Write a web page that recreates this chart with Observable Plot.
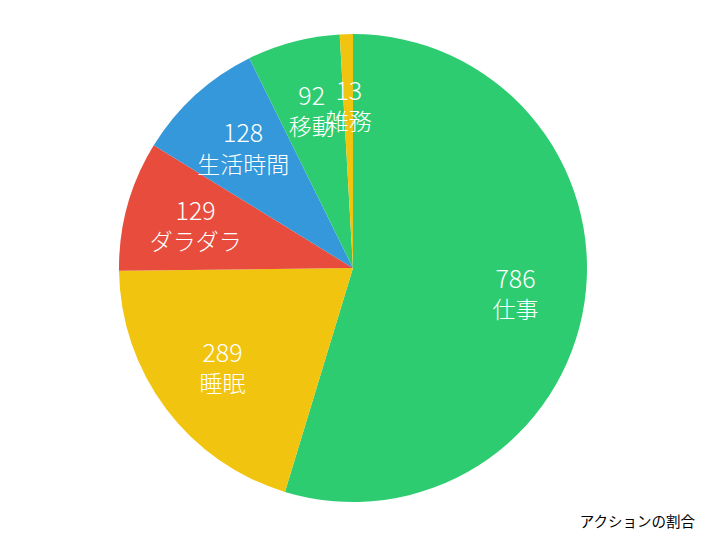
<!DOCTYPE html>
<html>
<head>
<meta charset="utf-8">
<script src="https://cdn.jsdelivr.net/npm/d3@7"></script>
<script src="https://cdn.jsdelivr.net/npm/@observablehq/plot@0.6"></script>
<style>
  html, body { margin: 0; padding: 0; background: #fff; }
  #chart svg { display: block; }
  #caption { width: 706px; box-sizing: border-box; text-align: right; padding-right: 11px;
    font-family: "Noto Sans CJK JP", sans-serif; font-size: 14.5px; color: #000; line-height: 22px; }
</style>
</head>
<body>
<div id="chart"></div>
<div id="caption"></div>
<script>
const categories = ["仕事", "睡眠", "ダラダラ", "生活時間", "移動", "雑務"];
const values = [786, 289, 129, 128, 92, 13];
const colors = ["#2ecc71", "#f1c40f", "#e74c3c", "#3498db", "#2ecc71", "#f1c40f"];
const captionText = "アクションの割合";

const W = 706, H = 510, CX = 353, CY = 268, R = 234;

const arcs = d3.pie().sort(null).value(d => d.value)(
  categories.map((c, i) => ({category: c, value: values[i], color: colors[i]}))
);
const labelR = 0.7;
const labels = arcs.map(a => {
  const mid = (a.startAngle + a.endAngle) / 2;
  return {category: a.data.category, value: a.data.value,
          x: labelR * Math.sin(mid), y: labelR * Math.cos(mid)};
});

function pieMark(index, scales, values, dimensions, context) {
  const x0 = scales.x(0), y0 = scales.y(0);
  const r = scales.x(1) - scales.x(0);
  const arcGen = d3.arc().innerRadius(0).outerRadius(r);
  const g = d3.create("svg:g").attr("transform", `translate(${x0},${y0})`);
  g.selectAll("path").data(arcs).join("path")
    .attr("d", arcGen)
    .attr("fill", d => d.data.color);
  return g.node();
}

const chart = Plot.plot({
  width: W,
  height: H,
  margin: 0,
  x: {domain: [-CX / R, (W - CX) / R], axis: null},
  y: {domain: [-(H - CY) / R, CY / R], axis: null},
  marks: [
    pieMark,
    Plot.text(labels, {x: "x", y: "y", text: d => String(d.value), dy: -13,
      fill: "white", fontSize: 25, fontWeight: 300, fontFamily: "Noto Sans CJK JP, sans-serif"}),
    Plot.text(labels, {x: "x", y: "y", text: "category", dy: 18,
      fill: "white", fontSize: 23, fontWeight: 300, fontFamily: "Noto Sans CJK JP, sans-serif"})
  ]
});
document.getElementById("chart").appendChild(chart);
document.getElementById("caption").textContent = captionText;
</script>
</body>
</html>
